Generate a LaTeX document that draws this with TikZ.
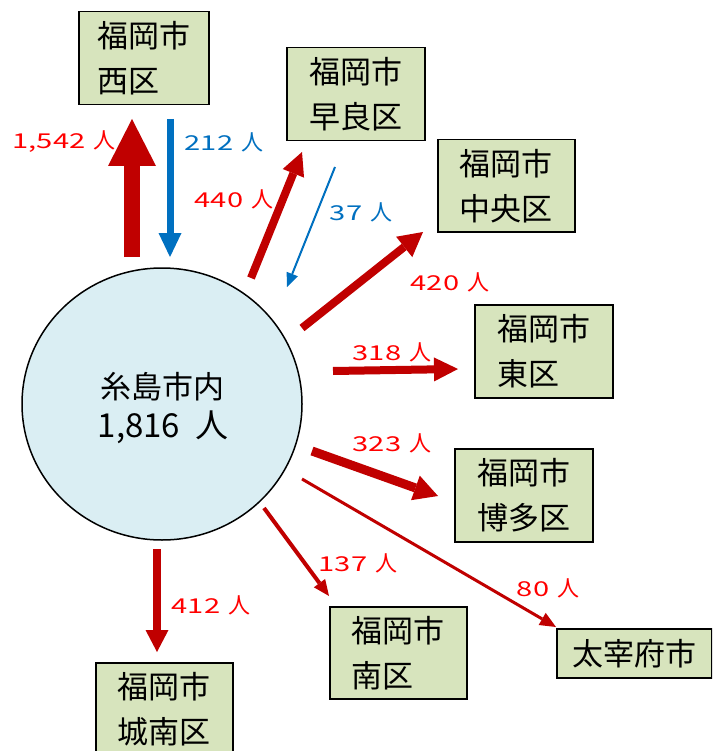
\documentclass[tikz,border=0pt]{standalone}
\usepackage{fontspec}
\setmainfont{Noto Sans CJK JP}
\newfontfamily\numf{Noto Sans CJK JP}[FakeStretch=1.42]
\usetikzlibrary{arrows.meta,shapes.geometric}
\definecolor{boxg}{HTML}{D7E4BD}
\definecolor{circb}{HTML}{DAEEF3}
\definecolor{dred}{HTML}{C00000}
\definecolor{lred}{HTML}{FF0000}
\definecolor{lblue}{HTML}{0070C0}
\newcommand\ninzu[1]{{\fontsize{20.5}{24}\numf #1}\hspace{8pt}{\fontsize{22}{24}\selectfont 人}}
\begin{document}
\begin{tikzpicture}[x=1pt,y=-1pt,
  box/.style={draw=black, line width=1.5pt, fill=boxg, anchor=north west,
    align=left, inner sep=0pt, font=\fontsize{31}{45}\selectfont},
  redlbl/.style={text=lred, inner sep=0pt, anchor=center},
  bluelbl/.style={text=lblue, inner sep=0pt, anchor=center},
  fat/.style n args={4}{draw=#1, line width=#2,
    -{Triangle[width=#3,length=#4,line width=0pt]}}]
\clip (0,0) rectangle (712,751);
\fill[white] (0,0) rectangle (712,751);
% boxes
\node[box, minimum width=130pt, minimum height=93pt] (nishi) at (78,11) {福岡市\\西区};
\node[box, minimum width=138pt, minimum height=93pt] (sawara) at (286,47) {福岡市\\早良区};
\node[box, minimum width=137pt, minimum height=92pt] (chuo) at (437,139) {福岡市\\中央区};
\node[box, minimum width=138pt, minimum height=93pt] (higashi) at (474,304) {福岡市\\東区};
\node[box, minimum width=138pt, minimum height=93pt] (hakata) at (454,448) {福岡市\\博多区};
\node[box, minimum width=137pt, minimum height=92pt] (minami) at (329,606) {福岡市\\南区};
\node[box, minimum width=137pt, minimum height=93pt] (jonan) at (95,662) {福岡市\\城南区};
\node[box, minimum width=155pt, minimum height=49pt] (dazaifu) at (556,628) {太宰府市};
% circle
\node[ellipse, draw=black, line width=1.5pt, fill=circb, minimum width=280pt,
  minimum height=272pt, inner sep=0pt] (itoshima) at (162,404) {};
\node[inner sep=0pt, font=\fontsize{31}{36}\selectfont] (ct1) at (162,387) {糸島市内};
\node[inner sep=0pt] (ct2) at (163,427) {{\fontsize{33}{36}\selectfont 1,816}\hspace{15pt}{\fontsize{33}{36}\selectfont 人}};
% arrow end points
\coordinate (a1s) at (132,257); \coordinate (a1e) at (132,119);
\coordinate (a2s) at (170,119); \coordinate (a2e) at (170,257);
\coordinate (a3s) at (251,278); \coordinate (a3e) at (302,152);
\coordinate (a4s) at (335,167); \coordinate (a4e) at (287,287);
\coordinate (a5s) at (302,328); \coordinate (a5e) at (423,232);
\coordinate (a6s) at (333,371); \coordinate (a6e) at (458,369);
\coordinate (a7s) at (312,451); \coordinate (a7e) at (438,496);
\coordinate (a8s) at (302,479); \coordinate (a8e) at (556,627);
\coordinate (a9s) at (264,508); \coordinate (a9e) at (329,596);
\coordinate (a10s) at (157,549); \coordinate (a10e) at (157,652);
% arrows
\draw[fat={dred}{16pt}{48pt}{47pt}] (a1s) -- (a1e);
\draw[fat={lblue}{7pt}{23pt}{24pt}] (a2s) -- (a2e);
\draw[fat={dred}{8pt}{23pt}{23pt}] (a3s) -- (a3e);
\draw[fat={lblue}{2pt}{12pt}{14pt}] (a4s) -- (a4e);
\draw[fat={dred}{8pt}{26pt}{24pt}] (a5s) -- (a5e);
\draw[fat={dred}{8pt}{24pt}{24pt}] (a6s) -- (a6e);
\draw[fat={dred}{9pt}{26pt}{24pt}] (a7s) -- (a7e);
\draw[fat={dred}{3pt}{14pt}{16pt}] (a8s) -- (a8e);
\draw[fat={dred}{4pt}{14pt}{16pt}] (a9s) -- (a9e);
\draw[fat={dred}{8pt}{23pt}{22pt}] (a10s) -- (a10e);
% labels
\node[redlbl] (l1) at (64,142) {\ninzu{1,542}};
\node[bluelbl] (l2) at (224,142) {\ninzu{212}};
\node[redlbl] (l3) at (234,199) {\ninzu{440}};
\node[bluelbl] (l4) at (361,212) {\ninzu{37}};
\node[redlbl] (l5) at (450,282) {\ninzu{420}};
\node[redlbl] (l6) at (392,352) {\ninzu{318}};
\node[redlbl] (l7) at (392,443) {\ninzu{323}};
\node[redlbl] (l8) at (358,563) {\ninzu{137}};
\node[redlbl] (l9) at (548,588) {\ninzu{80}};
\node[redlbl] (l10) at (211,605) {\ninzu{412}};
\end{tikzpicture}
\end{document}
